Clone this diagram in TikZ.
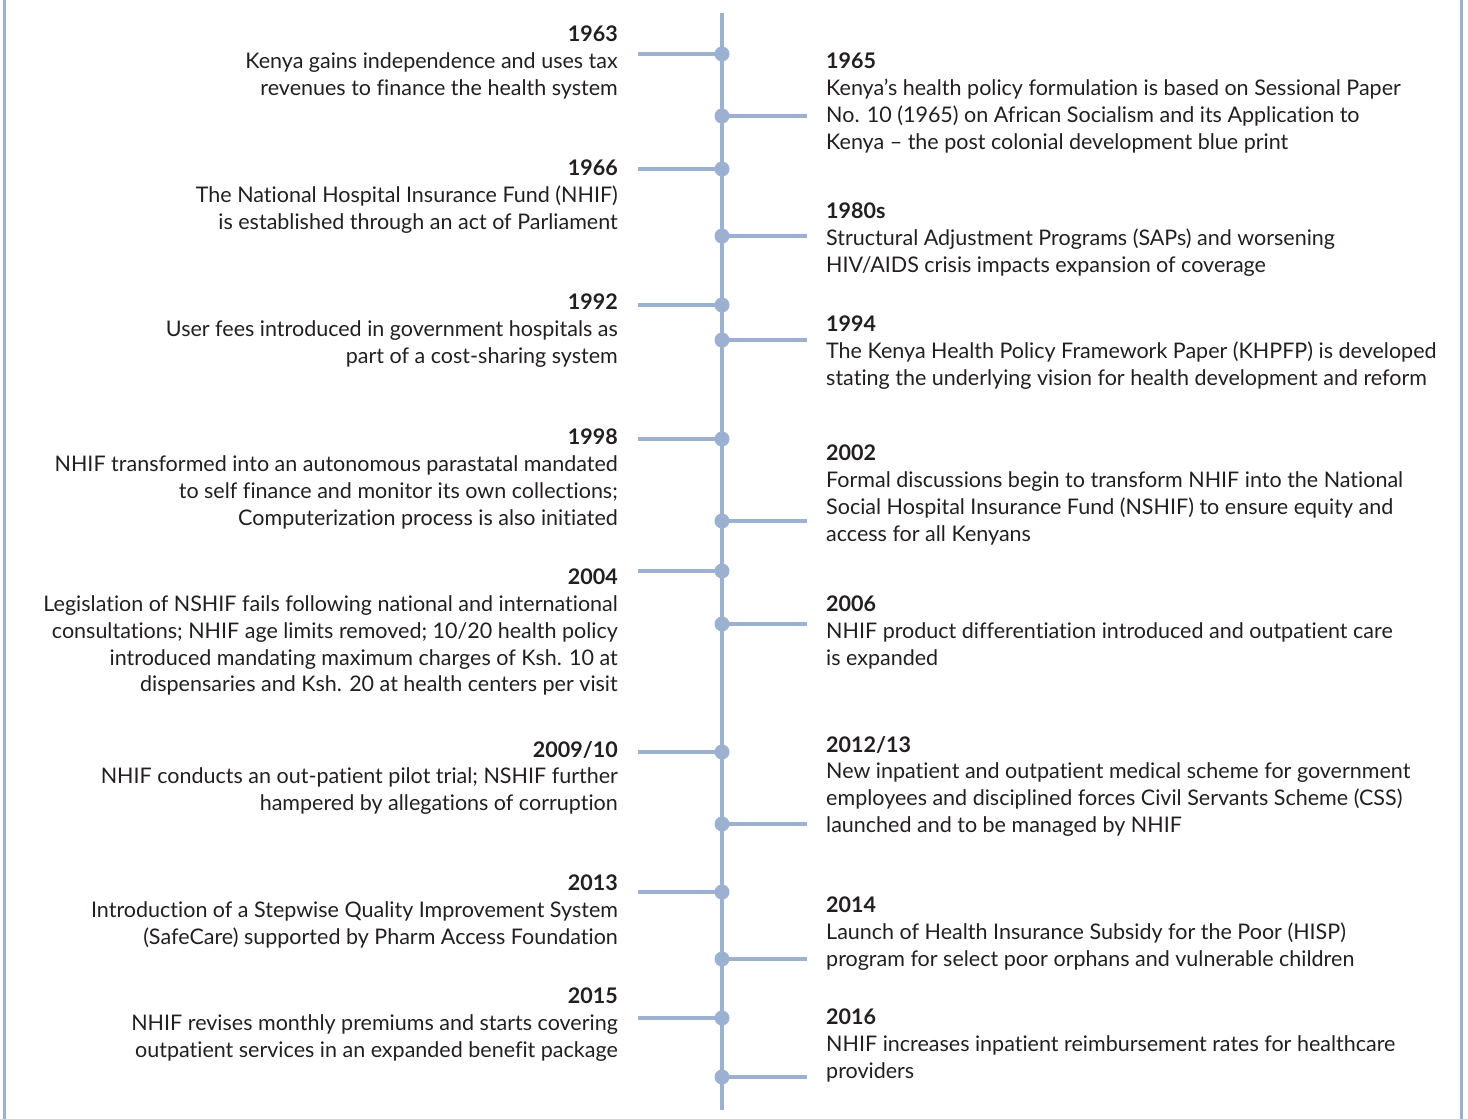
\documentclass[tikz,border=0pt]{standalone}
\usepackage{fontspec}
\setmainfont{Lato}[Ligatures={NoCommon}]
\definecolor{tlblue}{HTML}{9CB0D2}
\definecolor{txt}{HTML}{231F20}
\newcommand{\bodyfnt}{\fontsize{21.5}{26.7}\selectfont\color{txt}}
\begin{document}
\begin{tikzpicture}[x=1pt,y=-1pt,
  frame/.style={draw=tlblue, line width=3pt},
  tline/.style={draw=tlblue, line width=4pt},
  tdot/.style={circle, fill=tlblue, inner sep=0pt, minimum size=15pt},
  ltxt/.style={anchor=north east, align=right, inner sep=0pt, font=\bodyfnt},
  rtxt/.style={anchor=north west, align=left, inner sep=0pt, font=\bodyfnt}]
\useasboundingbox (0,0) rectangle (1468,1119);
% frame
\draw[frame] (4.5,0) -- (4.5,1119);
\draw[frame] (1461.5,0) -- (1461.5,1119);
% timeline
\coordinate (top) at (722,13);
\coordinate (bot) at (722,1110);
\draw[tline] (top) -- (bot);
% left dots
\foreach \n/\y in {a/54, b/169, c/305, d/439, e/571, f/752, g/892, h/1018}{
  \node[tdot] (L\n) at (722,\y) {};
  \coordinate (LE\n) at (638,\y);
  \draw[tline] (L\n.center) -- (LE\n);
}
% right dots
\foreach \n/\y in {a/116, b/236, c/340, d/521, e/624, f/824, g/959, h/1077}{
  \node[tdot] (R\n) at (722,\y) {};
  \coordinate (RE\n) at (807,\y);
  \draw[tline] (R\n.center) -- (RE\n);
}
% left texts
\node[ltxt] (tLa) at (618,26) {\textbf{1963}\\Kenya gains independence and uses tax\\revenues to finance the health system};
\node[ltxt] (tLb) at (618,160) {\textbf{1966}\\The National Hospital Insurance Fund (NHIF)\\is established through an act of Parliament};
\node[ltxt] (tLc) at (618,294) {\textbf{1992}\\User fees introduced in government hospitals as\\part of a cost-sharing system};
\node[ltxt] (tLd) at (618,429) {\textbf{1998}\\NHIF transformed into an autonomous parastatal mandated\\to self finance and monitor its own collections;\\Computerization process is also initiated};
\node[ltxt] (tLe) at (618,569) {\textbf{2004}\\Legislation of NSHIF fails following national and international\\consultations; NHIF age limits removed; 10/20 health policy\\introduced mandating maximum charges of Ksh. 10 at\\dispensaries and Ksh. 20 at health centers per visit};
\node[ltxt] (tLf) at (618,741) {\textbf{2009/10}\\NHIF conducts an out-patient pilot trial; NSHIF further\\hampered by allegations of corruption};
\node[ltxt] (tLg) at (618,875) {\textbf{2013}\\Introduction of a Stepwise Quality Improvement System\\(SafeCare) supported by Pharm Access Foundation};
\node[ltxt] (tLh) at (618,988) {\textbf{2015}\\NHIF revises monthly premiums and starts covering\\outpatient services in an expanded benefit package};
% right texts
\node[rtxt] (tRa) at (826,53) {\textbf{1965}\\Kenya’s health policy formulation is based on Sessional Paper\\No. 10 (1965) on African Socialism and its Application to\\Kenya – the post colonial development blue print};
\node[rtxt] (tRb) at (826,203) {\textbf{1980s}\\Structural Adjustment Programs (SAPs) and worsening\\HIV/AIDS crisis impacts expansion of coverage};
\node[rtxt] (tRc) at (826,316) {\textbf{1994}\\The Kenya Health Policy Framework Paper (KHPFP) is developed\\stating the underlying vision for health development and reform};
\node[rtxt] (tRd) at (826,445) {\textbf{2002}\\Formal discussions begin to transform NHIF into the National\\Social Hospital Insurance Fund (NSHIF) to ensure equity and\\access for all Kenyans};
\node[rtxt] (tRe) at (826,596) {\textbf{2006}\\NHIF product differentiation introduced and outpatient care\\is expanded};
\node[rtxt] (tRf) at (826,736) {\textbf{2012/13}\\New inpatient and outpatient medical scheme for government\\employees and disciplined forces Civil Servants Scheme (CSS)\\launched and to be managed by NHIF};
\node[rtxt] (tRg) at (826,897) {\textbf{2014}\\Launch of Health Insurance Subsidy for the Poor (HISP)\\program for select poor orphans and vulnerable children};
\node[rtxt] (tRh) at (826,1009) {\textbf{2016}\\NHIF increases inpatient reimbursement rates for healthcare\\providers};
\end{tikzpicture}
\end{document}
